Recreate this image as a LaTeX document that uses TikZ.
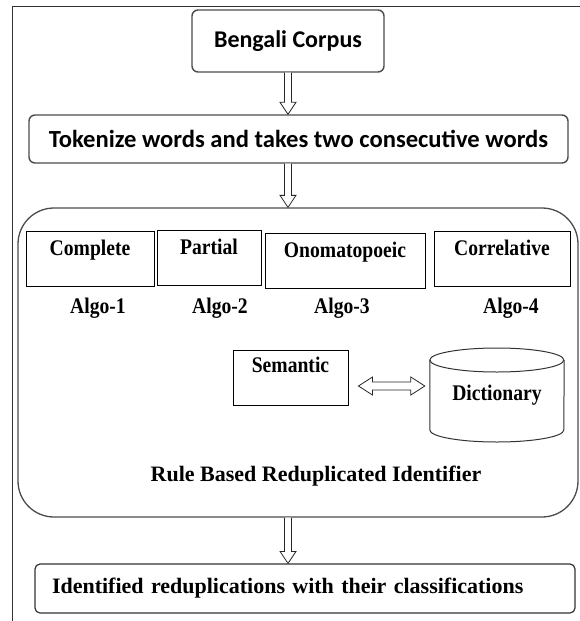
\documentclass[tikz,border=0pt]{standalone}
\usepackage{fontspec}
\setmainfont{Liberation Serif}
\newfontfamily\calfont{Carlito}
\newfontfamily\condserif{Liberation Serif}[FakeStretch=0.88]
\usetikzlibrary{calc}
\tikzset{
  roundbox/.style={draw=black!70, line width=1.4pt, rounded corners=6pt, inner sep=0pt,
    font=\calfont\bfseries\fontsize{24}{28}\selectfont},
  algobox/.style={draw=black, line width=0.9pt, inner sep=0pt, minimum height=55pt,
    text height=12pt, text depth=19pt, font=\condserif\bfseries\fontsize{22.3}{24}\selectfont},
  algolabel/.style={inner sep=0pt, font=\condserif\bfseries\fontsize{22.3}{24}\selectfont},
  bigtext/.style={inner sep=0pt, font=\bfseries\fontsize{22}{26}\selectfont},
  bigbox/.style={draw=black!70, line width=1.3pt, rounded corners=36pt},
  blockarr/.style={draw=black!85, line width=0.8pt, fill=white, line join=miter},
  framestyle/.style={draw=black!80, line width=1pt}
}
\newcommand\vblockarrow[2]{%
  \draw[blockarr] ($(#1)+(-3.5,0)$) -- ($(#2)+(-3.5,-12)$) -- ($(#2)+(-8,-12)$) -- (#2)
    -- ($(#2)+(8,-12)$) -- ($(#2)+(3.5,-12)$) -- ($(#1)+(3.5,0)$);}
\begin{document}
\begin{tikzpicture}[x=1pt,y=-1pt]
\useasboundingbox (0,0) rectangle (580,621);
% outer frame
\draw[framestyle] (12,621) -- (12,6) -- (580,6);
% top boxes
\node[roundbox, minimum width=192pt, minimum height=62pt] (bc) at (288,41) {Bengali Corpus};
\node[roundbox, minimum width=539pt, minimum height=48pt, font=\calfont\bfseries\fontsize{24.6}{28}\selectfont] (tok) at (298.5,139) {Tokenize words and takes two consecutive words};
% big rounded box
\node[bigbox, minimum width=560pt, minimum height=309pt] (rbox) at (298,362.5) {};
% algorithm boxes
\node[algobox, minimum width=128pt] (comp) at (90,258.5) {Complete};
\node[algobox, minimum width=104pt] (part) at (209,258) {Partial};
\node[algobox, minimum width=160pt] (onom) at (345,260.5) {Onomatopoeic};
\node[algobox, minimum width=136pt] (corr) at (502,258.5) {Correlative};
\node[algolabel] (a1) at (98,308) {Algo-1};
\node[algolabel] (a2) at (220,308) {Algo-2};
\node[algolabel] (a3) at (342,308) {Algo-3};
\node[algolabel] (a4) at (511,308) {Algo-4};
% semantic + dictionary
\node[algobox, minimum width=115pt, text height=12pt, text depth=22pt] (sem) at (290.5,377.5) {Semantic};
\node[algolabel, minimum width=134pt, minimum height=94pt] (dict) at (497,395) {Dictionary};
\draw[draw=black!80, line width=1pt]
  (dict.west |- 0,360) arc[start angle=180, end angle=-180, x radius=67, y radius=12];
\draw[draw=black!80, line width=1pt]
  (dict.west |- 0,360) -- (dict.west |- 0,430)
  arc[start angle=180, end angle=360, x radius=67, y radius=-12]
  -- (dict.east |- 0,360);
% double arrow
\coordinate (dl) at ($(sem.east)+(10,8.5)$);
\coordinate (dr) at ($(dict.west |- dl)+(-5,0)$);
\draw[blockarr] (dl) -- ($(dl)+(14,-9)$) -- ($(dl)+(14,-4)$) -- ($(dr)+(-14,-4)$) -- ($(dr)+(-14,-9)$)
  -- (dr) -- ($(dr)+(-14,9)$) -- ($(dr)+(-14,4)$) -- ($(dl)+(14,4)$) -- ($(dl)+(14,9)$) -- cycle;
\node[bigtext] (rule) at (316,476) {Rule Based Reduplicated Identifier};
% result box
\node[draw=black!80, line width=1.2pt, rounded corners=5pt, minimum width=540pt, minimum height=49pt,
  inner xsep=17pt, inner ysep=0pt, text width=506pt, align=left,
  font=\bfseries\fontsize{22}{26}\selectfont] (res) at (305,588.5) {Identified reduplications with their classifications};
% block arrows
\coordinate (t1) at (bc.south |- tok.north);
\vblockarrow{bc.south}{t1}
\coordinate (s2) at (bc.south |- tok.south);
\coordinate (t2) at (bc.south |- rbox.north);
\vblockarrow{s2}{t2}
\coordinate (s3) at (bc.south |- rbox.south);
\coordinate (t3) at (bc.south |- res.north);
\vblockarrow{s3}{t3}
\end{tikzpicture}
\end{document}
